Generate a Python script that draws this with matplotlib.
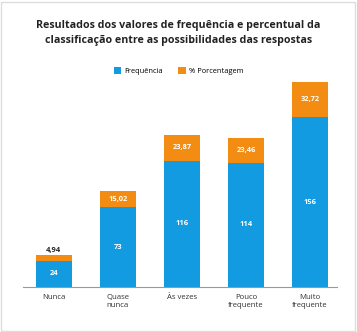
import matplotlib.pyplot as plt
from matplotlib.patches import Rectangle

categories = ["Nunca", "Quase\nnunca", "Às vezes", "Pouco\nfrequente", "Muito\nfrequente"]
frequencia = [24, 73, 116, 114, 156]
porcentagem = [4.94, 15.02, 23.87, 23.46, 32.72]

blue = "#129be0"
orange = "#f28c12"
plt.rcParams['font.family'] = ['Open Sans', 'DejaVu Sans']

fig = plt.figure(figsize=(3.57, 3.32), dpi=100)
W, H = 357, 332
# axes placed in pixel coords: left 23, right 337, bottom 286.7, top 80.5
ax = fig.add_axes([23 / W, (H - 286.7) / H, (337 - 23) / W, (286.7 - 80.5) / H])

x = range(len(categories))
ax.bar(x, frequencia, width=0.56, color=blue, label="Frequência")
ax.bar(x, porcentagem, width=0.56, bottom=frequencia, color=orange, label="% Porcentagem")

for i, (f, p) in enumerate(zip(frequencia, porcentagem)):
    ax.text(i, f / 2, str(f), ha='center', va='center', color='white',
            fontsize=5.4, fontweight='bold')
    s = f"{p:.2f}".replace('.', ',')
    if p < 8:
        ax.text(i, f + p + 0.8, s, ha='center', va='bottom', color='#222222',
                fontsize=5.4, fontweight='bold')
    else:
        ax.text(i, f + p / 2, s, ha='center', va='center', color='white',
                fontsize=5.4, fontweight='bold')

ax.set_xlim(-0.48, 4.42)
ax.set_ylim(0, 190)
ax.set_xticks(list(x))
ax.set_xticklabels(categories, fontsize=5.6, color='#333333', linespacing=1.25)
ax.tick_params(axis='x', length=0, pad=5)
ax.set_yticks([])
for side in ['top', 'right', 'left']:
    ax.spines[side].set_visible(False)
ax.spines['bottom'].set_color('#999999')
ax.spines['bottom'].set_linewidth(0.8)

fig.text(0.5, 1 - 33 / H, "Resultados dos valores de frequência e percentual da\n"
         "classificação entre as possibilidades das respostas",
         ha='center', va='center', fontsize=7.7, fontweight='bold',
         color='#222222', linespacing=1.45)

fig.legend(loc='center', bbox_to_anchor=(0.5, 1 - 71 / H), ncol=2, frameon=False,
           fontsize=5.4, handlelength=1.0, handleheight=1.0, handletextpad=0.4,
           columnspacing=2.0)

fig.patches.append(Rectangle((1 / W, 1 / H), (W - 3) / W, (H - 3) / H,
                             transform=fig.transFigure, fill=False,
                             edgecolor='#dddddd', linewidth=1.0))

fig.savefig("out.png", dpi=100)
